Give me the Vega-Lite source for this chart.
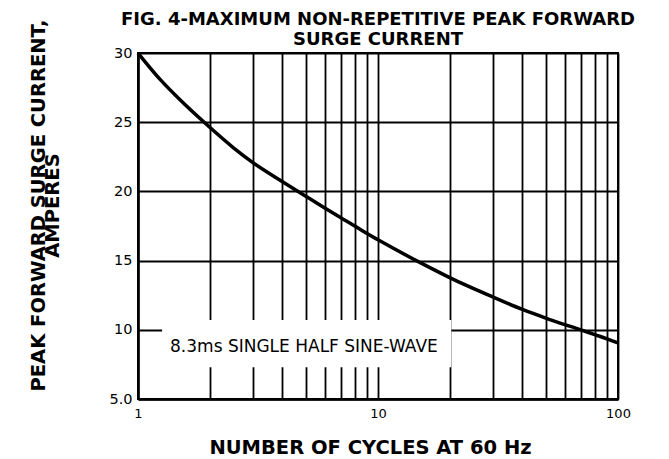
{
  "$schema": "https://vega.github.io/schema/vega-lite/v6.json",
  "width": 480,
  "height": 346,
  "autosize": {"type": "none"},
  "padding": {"left": 138, "top": 53, "right": 51, "bottom": 60},
  "background": "white",
  "title": {
    "text": ["FIG. 4-MAXIMUM NON-REPETITIVE PEAK FORWARD", "SURGE CURRENT"],
    "font": "DejaVu Sans",
    "fontWeight": "bold",
    "fontSize": 18,
    "lineHeight": 20.5,
    "anchor": "middle",
    "offset": -33.5,
    "color": "black"
  },
  "config": {
    "view": {"stroke": "black", "strokeWidth": 2},
    "axis": {
      "domainColor": "black",
      "domainWidth": 2.5,
      "gridColor": "black",
      "gridOpacity": 1,
      "gridWidth": 1.8,
      "ticks": false,
      "labelColor": "black",
      "labelFont": "DejaVu Sans",
      "titleColor": "black",
      "titleFont": "DejaVu Sans",
      "titleFontWeight": "bold"
    }
  },
  "datasets": {
    "curve": [
      {"cycles": 1, "current": 30},
      {"cycles": 1.25, "current": 28.0},
      {"cycles": 1.5, "current": 26.6},
      {"cycles": 2, "current": 24.6},
      {"cycles": 2.5, "current": 23.15},
      {"cycles": 3, "current": 22.1},
      {"cycles": 4, "current": 20.7},
      {"cycles": 5, "current": 19.65},
      {"cycles": 6, "current": 18.8},
      {"cycles": 7, "current": 18.1},
      {"cycles": 8, "current": 17.5},
      {"cycles": 9, "current": 16.95},
      {"cycles": 10, "current": 16.5},
      {"cycles": 15, "current": 14.85},
      {"cycles": 20, "current": 13.75},
      {"cycles": 30, "current": 12.38},
      {"cycles": 40, "current": 11.47},
      {"cycles": 50, "current": 10.85},
      {"cycles": 60, "current": 10.38},
      {"cycles": 70, "current": 10.0},
      {"cycles": 80, "current": 9.65},
      {"cycles": 90, "current": 9.35},
      {"cycles": 100, "current": 9.05}
    ],
    "box": [
      {"x1": 1.26, "x2": 20.2, "y1": 7.3, "y2": 10.7}
    ],
    "note": [
      {"x": 1.36, "y": 8.78, "text": "8.3ms SINGLE HALF SINE-WAVE"}
    ]
  },
  "layer": [
    {
      "data": {"name": "box"},
      "mark": {"type": "rect", "fill": "white", "stroke": null},
      "encoding": {
        "x": {"field": "x1", "type": "quantitative", "scale": {"type": "log", "domain": [1, 100], "nice": false},
          "axis": {
            "values": [1, 2, 3, 4, 5, 6, 7, 8, 9, 10, 20, 30, 40, 50, 60, 70, 80, 90, 100],
            "labelExpr": "datum.value == 1 || datum.value == 10 || datum.value == 100 ? datum.label : ''",
            "labelFontSize": 13,
            "labelPadding": 8,
            "labelFlush": false,
            "labelOverlap": false,
            "title": "NUMBER OF CYCLES AT 60 Hz",
            "titleFontSize": 19.5,
            "titleBaseline": "alphabetic",
            "titleY": 54,
            "titleX": 232
          }},
        "x2": {"field": "x2"},
        "y": {"field": "y1", "type": "quantitative", "scale": {"domain": [5, 30], "nice": false, "zero": false},
          "axis": {
            "values": [5, 10, 15, 20, 25, 30],
            "labelExpr": "datum.value == 5 ? '5.0' : datum.label",
            "labelFontSize": 14.5,
            "labelPadding": 6,
            "title": ["PEAK  FORWARD SURGE CURRENT,", "AMPERES"],
            "titleFontSize": 19.5,
            "titleLineHeight": 14,
            "titleAngle": -90,
            "titleAlign": "center",
            "titleBaseline": "middle",
            "titleX": -100,
            "titleY": 152
          }},
        "y2": {"field": "y2"}
      }
    },
    {
      "data": {"name": "note"},
      "mark": {"type": "text", "align": "left", "baseline": "middle", "font": "DejaVu Sans", "fontSize": 17, "color": "black"},
      "encoding": {
        "x": {"field": "x", "type": "quantitative"},
        "y": {"field": "y", "type": "quantitative"},
        "text": {"field": "text"}
      }
    },
    {
      "data": {"name": "curve"},
      "mark": {"type": "line", "color": "black", "strokeWidth": 3.5, "interpolate": "monotone"},
      "encoding": {
        "x": {"field": "cycles", "type": "quantitative"},
        "y": {"field": "current", "type": "quantitative"}
      }
    }
  ]
}
